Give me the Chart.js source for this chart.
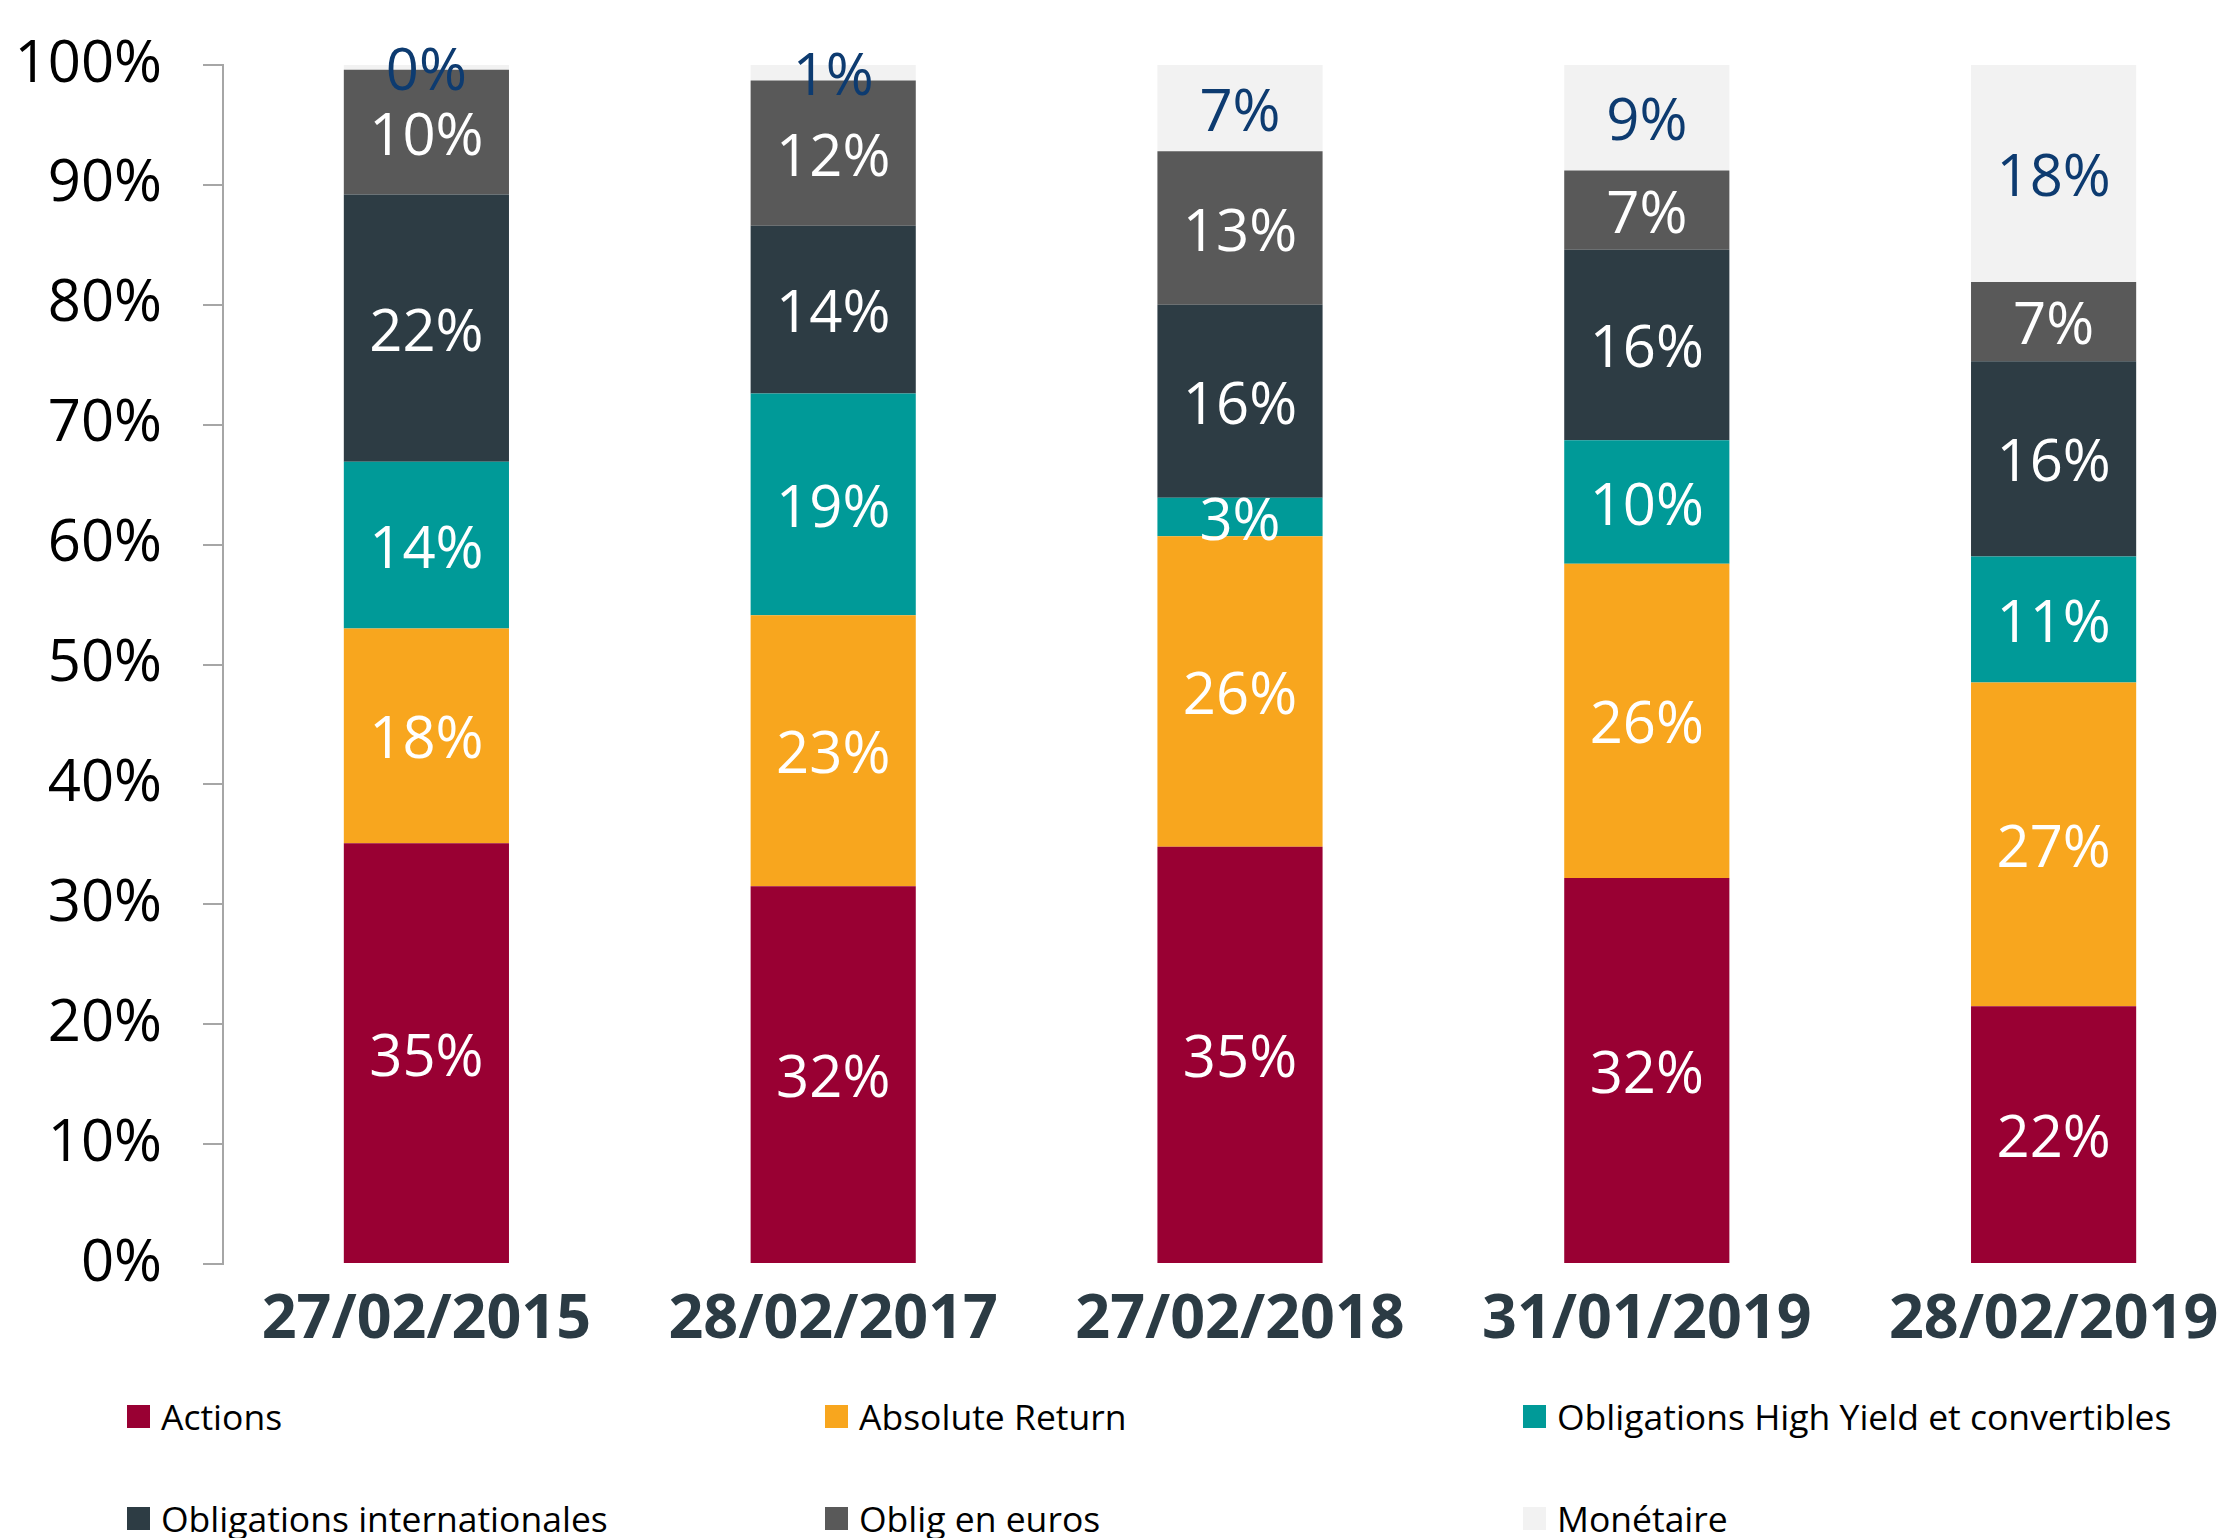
<!DOCTYPE html>
<html>
<head>
<meta charset="utf-8">
<script src="https://cdn.jsdelivr.net/npm/chart.js@4/dist/chart.umd.min.js"></script>
<style>
  html, body { margin: 0; padding: 0; background: #fff; overflow: hidden; }
  #wrap { position: absolute; left: 0; top: 0; width: 2257px; height: 1380px; }
  #legend {
    position: absolute; left: 127px; top: 1395px;
    display: grid; grid-template-columns: 698px 698px 698px; grid-auto-rows: 102px;
    font-family: 'Open Sans', sans-serif; font-size: 35.5px; color: #000;
  }
  .item { display: flex; align-items: center; height: 42px; white-space: nowrap; }
  .box { width: 23px; height: 23px; margin-right: 11px; flex: none; }
</style>
</head>
<body>
<div id="wrap"><canvas id="chart"></canvas></div>
<div id="legend"></div>
<script>
// Categories and series (share of each asset class, in %)
const dates = ['27/02/2015', '28/02/2017', '27/02/2018', '31/01/2019', '28/02/2019'];
const actions = [35.1, 31.5, 34.8, 32.2, 21.5];
const absoluteReturn = [17.9, 22.6, 25.9, 26.2, 27.0];
const highYield = [13.9, 18.5, 3.2, 10.3, 10.5];
const obligInter = [22.3, 14.0, 16.1, 15.9, 16.3];
const obligEuros = [10.4, 12.1, 12.8, 6.6, 6.6];
const monetaire = [0.4, 1.3, 7.2, 8.8, 18.1];
const yTicks = [0, 10, 20, 30, 40, 50, 60, 70, 80, 90, 100];

const seriesNames = ['Actions', 'Absolute Return', 'Obligations High Yield et convertibles',
  'Obligations internationales', 'Oblig en euros', 'Monétaire'];
const seriesData = [actions, absoluteReturn, highYield, obligInter, obligEuros, monetaire];
const seriesColors = ['#990033', '#F8A61E', '#009A98', '#2D3C44', '#595959', '#F2F2F2'];
const labelColors = ['#fff', '#fff', '#fff', '#fff', '#fff', '#0D3B70'];

Chart.defaults.font.family = "'Open Sans', sans-serif";

// values written in the middle of each segment
const segmentLabels = {
  id: 'segmentLabels',
  afterDatasetsDraw(chart) {
    const { ctx } = chart;
    ctx.save();
    ctx.font = "58px 'Open Sans'";
    ctx.textAlign = 'center';
    ctx.textBaseline = 'middle';
    chart.data.datasets.forEach((ds, i) => {
      chart.getDatasetMeta(i).data.forEach((bar, j) => {
        ctx.fillStyle = labelColors[i];
        ctx.fillText(Math.round(ds.data[j]) + '%', bar.x, (bar.y + bar.base) / 2 + 6);
      });
    });
    ctx.restore();
  }
};

const ctx = document.getElementById('chart');
new Chart(ctx, {
  type: 'bar',
  data: {
    labels: dates,
    datasets: seriesNames.map((name, i) => ({
      label: name,
      data: seriesData[i],
      backgroundColor: seriesColors[i],
      borderWidth: 0,
      categoryPercentage: 1,
      barPercentage: 0.406,
    })),
  },
  options: {
    animation: false,
    responsive: true,
    maintainAspectRatio: false,
    layout: {
      padding: { top: 65, left: 0, right: 0, bottom: 0 },
    },
    scales: {
      x: {
        stacked: true,
        grid: { display: false },
        border: { display: false },
        ticks: {
          padding: 12,
          color: '#2B3B44',
          font: { size: 61, weight: 'bold' },
        },
        afterFit: (scale) => { scale.height = 116; },
      },
      y: {
        stacked: true,
        min: 0,
        max: 100,
        afterBuildTicks: (scale) => { scale.ticks = yTicks.map(v => ({ value: v })); },
        grid: {
          drawOnChartArea: false,
          drawTicks: true,
          tickLength: 20,
          color: '#A6A6A6',
          lineWidth: 2,
        },
        border: { display: true, color: '#A6A6A6', width: 2 },
        ticks: {
          padding: 41,
          color: '#000',
          font: { size: 58 },
          callback: (v) => v + '%',
        },
        afterFit: (scale) => {
          scale.width = 223;
          // the tick padding must not push the plot down
          scale.paddingTop = 35;
          scale.paddingBottom = 35;
        },
      },
    },
    plugins: {
      legend: { display: false },
      tooltip: { enabled: false },
    },
  },
  plugins: [segmentLabels],
});

// legend in three fixed columns
const legend = document.getElementById('legend');
seriesNames.forEach((name, i) => {
  const item = document.createElement('div');
  item.className = 'item';
  item.innerHTML = '<span class="box" style="background:' + seriesColors[i] + '"></span><span>' + name + '</span>';
  legend.appendChild(item);
});
</script>
</body>
</html>
